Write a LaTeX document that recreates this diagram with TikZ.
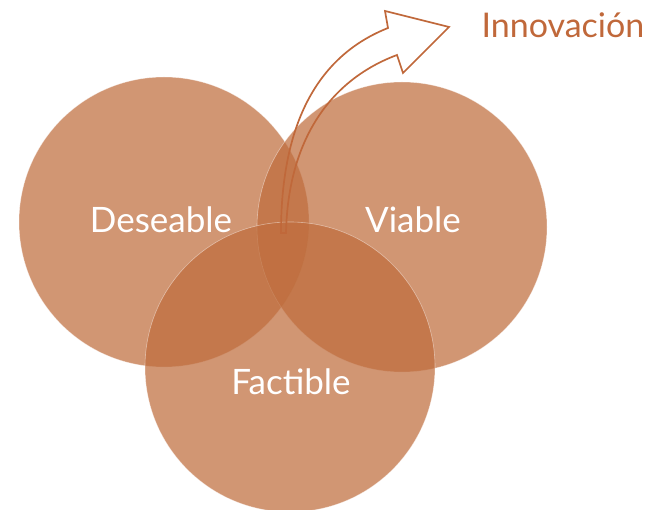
\documentclass[tikz,border=0pt]{standalone}
\usepackage{fontspec}
\setmainfont{Lato}
\definecolor{terra}{HTML}{BF6D3D}
\definecolor{arrowc}{HTML}{C0683A}
\begin{document}
\begin{tikzpicture}[x=1pt,y=-1pt,
  venn/.style={circle,inner sep=0pt,minimum size=290pt,fill=terra,fill opacity=0.72,draw=white,draw opacity=0.45,line width=0.6pt},
  lbl/.style={text=white,font=\fontsize{35}{40}\selectfont,inner sep=0pt},
  arrowshape/.style={draw=arrowc,line width=1.7pt,line join=miter,fill=none}]
\useasboundingbox (0,0) rectangle (654,510);
\node[venn] (L) at (164,222) {};
\node[venn] (R) at (402,227) {};
\node[venn] (B) at (290,367) {};
\node[lbl] (tL) at (161,220) {Deseable};
\node[lbl] (tR) at (413,220) {Viable};
\node[lbl] (tB) at (291,382) {Factible};
\node[text=arrowc,font=\fontsize{34}{38}\selectfont,inner sep=0pt] (tI) at (563,25) {Innovación};
\coordinate (b1) at (281,233);
\coordinate (b2) at (286,233);
\coordinate (n1) at (388,28);
\coordinate (h1) at (385,11);
\coordinate (tip) at (449,27);
\coordinate (h2) at (403,73);
\coordinate (n2) at (397,55);
\draw[arrowshape] (b1) .. controls (281,120) and (320,55) .. (n1) -- (h1) -- (tip) -- (h2) -- (n2) .. controls (330,80) and (288,140) .. (b2) -- cycle;
\end{tikzpicture}
\end{document}
